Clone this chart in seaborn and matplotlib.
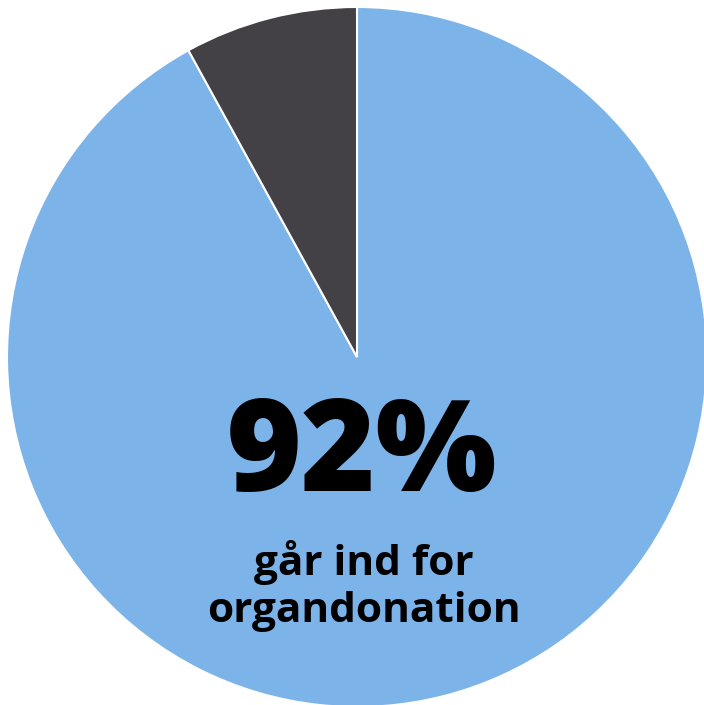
import matplotlib
matplotlib.use("Agg")
import matplotlib.pyplot as plt
import seaborn as sns

# data
labels = ["går ind for organdonation", "andre"]
shares = [92, 8]
colors = ["#7cb3e9", "#434146"]
big_label = "92%"
sub_label = "går ind for\norgandonation"

sns.set_style("white")
plt.rcParams["font.family"] = ["Open Sans", "DejaVu Sans"]

fig = plt.figure(figsize=(7.04, 7.05), dpi=100)
ax = fig.add_axes([0, 0, 1, 1])

r_px = 350
ax.pie(shares, colors=colors, startangle=90, counterclock=False, radius=1,
       wedgeprops=dict(edgecolor="white", linewidth=1.5))

ax.set_xlim(-357 / r_px, 347 / r_px)
ax.set_ylim(-348 / r_px, 357 / r_px)
ax.set_aspect("equal")
ax.axis("off")

ax.text(0.015, -0.29, big_label, ha="center", va="center",
        fontsize=92, fontweight="heavy", color="black")
ax.text(0.02, -0.655, sub_label, ha="center", va="center",
        fontsize=30.5, fontweight="bold", color="black", linespacing=1.2)

fig.savefig("out.png", dpi=100, facecolor="white")
